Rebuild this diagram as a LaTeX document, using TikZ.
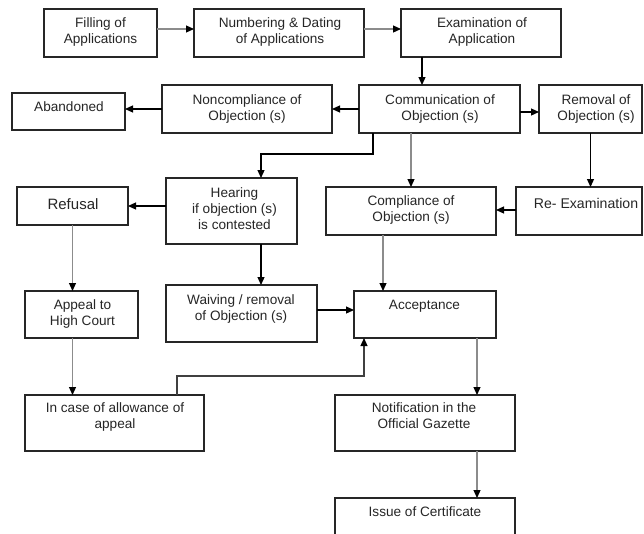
\documentclass[tikz,border=0pt]{standalone}
\usepackage{fontspec}
\setmainfont{Liberation Sans}
\usetikzlibrary{arrows.meta}
\begin{document}
\begin{tikzpicture}[x=1pt,y=-1pt,
  box/.style={draw=black!85, line width=1.2pt, inner sep=0pt, outer sep=0pt, fill=white},
  txt/.style={inner sep=0pt, align=center, font=\fontsize{13.6}{16}\selectfont, text=black!85},
  tip/.style={-{Triangle[length=8pt,width=7pt,color=black]}},
  bline/.style={tip, draw=black, line width=1.2pt},
  gline/.style={tip, draw=black!45, line width=1.2pt},
  dline/.style={tip, draw=black!75, line width=1.2pt}]
\useasboundingbox (0,0) rectangle (644,533);
% boxes
\node[box, minimum width=113pt, minimum height=48pt] (fill) at (100.5,33) {};
\node[box, minimum width=170pt, minimum height=48pt] (numb) at (279,33) {};
\node[box, minimum width=160pt, minimum height=48pt] (exam) at (481,33) {};
\node[box, minimum width=113pt, minimum height=37pt] (aban) at (68.5,111.5) {};
\node[box, minimum width=170pt, minimum height=48pt] (nonc) at (247,109) {};
\node[box, minimum width=161pt, minimum height=48pt] (comm) at (439.5,109) {};
\node[box, minimum width=103pt, minimum height=48pt] (remo) at (590.5,109) {};
\node[box, minimum width=111pt, minimum height=38pt] (refu) at (72.5,206) {};
\node[box, minimum width=131pt, minimum height=66pt] (hear) at (231.5,211) {};
\node[box, minimum width=170pt, minimum height=48pt] (comp) at (411,211) {};
\node[box, minimum width=126pt, minimum height=48pt] (reex) at (579,211) {};
\node[box, minimum width=113pt, minimum height=47pt] (appe) at (81.5,314.5) {};
\node[box, minimum width=151pt, minimum height=57pt] (waiv) at (241.5,313.5) {};
\node[box, minimum width=142pt, minimum height=47pt] (acce) at (425,314.5) {};
\node[box, minimum width=179pt, minimum height=56pt] (inca) at (114.5,423) {};
\node[box, minimum width=180pt, minimum height=56pt] (noti) at (425,423) {};
\node[box, minimum width=180pt, minimum height=62pt] (issu) at (425,529) {};
% texts
\node[txt] (tfill) at (100.5,31.5) {Filling of\\Applications};
\node[txt] (tnumb) at (280,31.5) {Numbering \& Dating\\of Applications};
\node[txt] (texam) at (482,31.5) {Examination of\\Application};
\node[txt] (taban) at (69,107) {Abandoned};
\node[txt] (tnonc) at (247,108.5) {Noncompliance of\\Objection (s)};
\node[txt] (tcomm) at (440,108.5) {Communication of\\Objection (s)};
\node[txt] (tremo) at (596,108.5) {Removal of\\Objection (s)};
\node[txt, font=\fontsize{15}{17}\selectfont] (trefu) at (73,204) {Refusal};
\node[txt, font=\fontsize{14.1}{16}\selectfont] (treex) at (586,203) {Re- Examination};
\node[txt] (thear) at (234.5,209) {Hearing\\if objection (s)\\is contested};
\node[txt] (tcomp) at (411,210) {Compliance of\\Objection (s)};
\node[txt] (tappe) at (82.5,313.5) {Appeal to\\High Court};
\node[txt] (twaiv) at (241,308.5) {Waiving / removal\\of Objection (s)};
\node[txt] (tacce) at (424.5,306) {Acceptance};
\node[txt] (tinca) at (115,417) {In case of allowance of\\appeal};
\node[txt] (tnoti) at (424,416) {Notification in the\\Official Gazette};
\node[txt] (tissu) at (425,512) {Issue of Certificate};
% helper coordinates
\coordinate (x422) at (422,0);
\coordinate (c1) at (373,154);
\coordinate (c2) at (261,154);
\coordinate (x383) at (383,0);
\coordinate (x477) at (477,0);
\coordinate (c5) at (177,376);
\coordinate (c6) at (364,376);
% connectors
\draw[gline] ([yshift=4pt]fill.east) -- ([yshift=4pt]fill.east -| numb.west);
\draw[gline] ([yshift=4pt]numb.east) -- ([yshift=4pt]numb.east -| exam.west);
\draw[bline] (exam.south -| x422) -- (comm.north -| x422);
\draw[bline] (comm.west) -- (nonc.east);
\draw[bline] (nonc.west) -- (nonc.west -| aban.east);
\draw[bline] ([yshift=-3pt]comm.east) -- ([yshift=-3pt]comm.east -| remo.west);
\draw[bline] (remo.south) -- (remo.south |- reex.north);
\draw[bline] (comm.south -| c1) -- (c1) -- (c2) -- (hear.north -| c2);
\draw[gline] (comm.south -| comp.north) -- (comp.north);
\draw[bline] (hear.west |- refu.east) -- (refu.east);
\draw[bline] ([yshift=1pt]reex.west) -- ([yshift=1pt]reex.west -| comp.east);
\draw[gline] (refu.south) -- (refu.south |- appe.north);
\draw[bline] (hear.south -| c2) -- (waiv.north -| c2);
\draw[gline] (comp.south -| x383) -- (acce.north -| x383);
\draw[bline] ([yshift=3.5pt]waiv.east) -- ([yshift=3.5pt]waiv.east -| acce.west);
\draw[gline] (acce.south -| x477) -- (noti.north -| x477);
\draw[gline] (appe.south -| refu.south) -- (inca.north -| refu.south);
\draw[dline] (inca.north -| c5) -- (c5) -- (c6) -- (acce.south -| c6);
\draw[gline] (noti.south -| x477) -- (issu.north -| x477);
\end{tikzpicture}
\end{document}
